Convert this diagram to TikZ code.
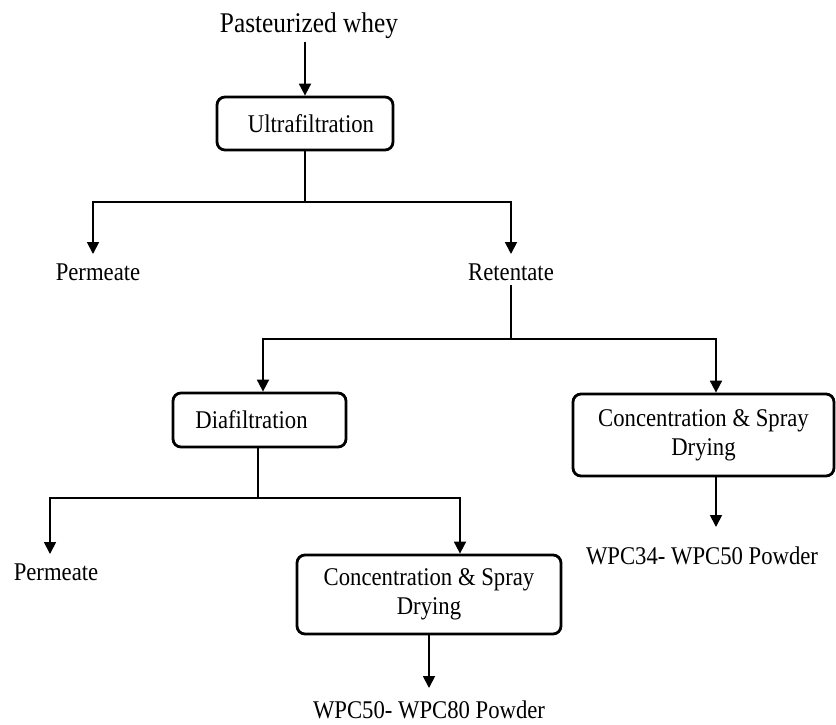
\documentclass[tikz,border=0pt]{standalone}
\usepackage{fontspec}
\setmainfont{Liberation Serif}[FakeStretch=0.89]
\usetikzlibrary{arrows.meta}
\newcommand\mybodyfont{\fontsize{25.5}{29}\selectfont}
\newcommand\mytitlefont{\fontsize{28.5}{32}\selectfont}
\begin{document}
\begin{tikzpicture}[x=1pt,y=-1pt,
  ln/.style={line width=1.8pt},
  arr/.style={line width=1.8pt,-{Triangle[width=12pt,length=12pt]}},
  box/.style={draw,line width=2.8pt,rounded corners=8pt,align=center,inner sep=0pt,font=\mybodyfont},
  lbl/.style={inner sep=0pt,outer xsep=0pt,outer ysep=9pt,text height=17pt,text depth=0pt,anchor=base,font=\mybodyfont}]
\useasboundingbox (0,0) rectangle (836,724);

\node[font=\mytitlefont,inner sep=0pt,anchor=base] (title) at (309,32) {Pasteurized whey};
\node[box,minimum width=176pt,minimum height=53pt] (uf) at (305,123.5) {\hspace*{12pt}Ultrafiltration};
\node[lbl] (p1) at (98,280) {Permeate};
\node[lbl] (ret) at (511,280) {Retentate};
\node[box,minimum width=173pt,minimum height=54pt] (dia) at (259.5,420) {Diafiltration\hspace*{16pt}};
\node[box,minimum width=261pt,minimum height=82pt] (cR) at (703.5,435) {Concentration \& Spray\\Drying};
\node[box,minimum width=264pt,minimum height=79pt] (cL) at (429,594.5) {Concentration \& Spray\\Drying};
\node[lbl] (p2) at (56,580) {Permeate};
\node[lbl] (w34) at (702,564) {WPC34- WPC50 Powder};
\node[lbl] (w50) at (429,718) {WPC50- WPC80 Powder};

\coordinate (j1) at (305,202);
\coordinate (j2) at (511,339);
\coordinate (j3) at (258,498);

\draw[arr] ([yshift=-4pt]title.south -| uf.north) -- (uf.north);
\draw[ln] (uf.south) -- (j1);
\draw[arr] (j1) -| ([xshift=-5pt]p1.north);
\draw[arr] (j1) -| (ret.north);
\draw[ln] ([yshift=4pt]ret.south) -- (j2);
\draw[arr] (j2) -| ([xshift=3.5pt]dia.north);
\draw[arr] (j2) -| ([xshift=12.5pt]cR.north);
\draw[ln] (dia.south -| j3) -- (j3);
\draw[arr] (j3) -| ([xshift=-6pt]p2.north);
\draw[arr] (j3) -| ([xshift=31pt]cL.north);
\draw[arr,shorten >=11pt] ([xshift=12.5pt]cR.south) -- ([xshift=12.5pt]cR.south |- w34.north);
\draw[arr,shorten >=4pt] (cL.south) -- (w50.north);
\end{tikzpicture}
\end{document}
